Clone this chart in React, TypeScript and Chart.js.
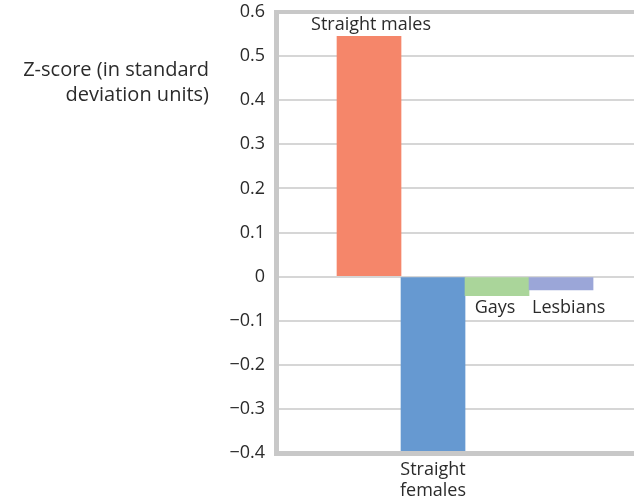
import React, { useEffect, useRef } from "react";
import { Chart, registerables } from "chart.js";

Chart.register(...registerables);

const categories = ["Straight males", "Straight females", "Gays", "Lesbians"];
const categoryLines = [["Straight males"], ["Straight", "females"], ["Gays"], ["Lesbians"]];
const zScores = [0.545, -0.4, -0.043, -0.03];
const barColors = ["#F5866A", "#6699D1", "#AAD59A", "#9BA6D8"];
const yTickValues = [-0.4, -0.3, -0.2, -0.1, 0, 0.1, 0.2, 0.3, 0.4, 0.5, 0.6];
const yTitleLines = ["Z-score (in standard", "deviation units)"];

const FONT = "'Open Sans', 'Noto Sans', sans-serif";
const TEXT = "#2b2b2b";
const FRAME = "#c8c8c8";

function fmt(v: number): string {
  if (Math.abs(v) < 1e-9) return "0";
  const s = Math.abs(v).toFixed(1);
  return v < 0 ? "\u2212" + s : s;
}

const annotate = {
  id: "annotate",
  afterDatasetsDraw(chart: any) {
    const { ctx, chartArea } = chart;
    const meta = chart.getDatasetMeta(0);
    ctx.save();
    // frame
    ctx.fillStyle = FRAME;
    ctx.fillRect(chartArea.left - 3, chartArea.top - 2, 5, chartArea.bottom - chartArea.top + 5);
    ctx.fillRect(chartArea.left - 3, chartArea.top - 2, chartArea.right - chartArea.left + 3, 4);
    ctx.fillRect(chartArea.left - 3, chartArea.bottom - 2, chartArea.right - chartArea.left + 3, 5);

    ctx.fillStyle = TEXT;
    // y title
    ctx.font = `20px ${FONT}`;
    ctx.textAlign = "right";
    ctx.textBaseline = "alphabetic";
    yTitleLines.forEach((t, i) => ctx.fillText(t, 209, 76 + i * 25));

    // bar labels
    ctx.font = `18px ${FONT}`;
    const smallBottoms: number[] = [];
    meta.data.forEach((bar: any, i: number) => {
      const v = zScores[i];
      if (v < 0 && bar.y < chartArea.bottom - 5) smallBottoms.push(bar.y);
    });
    const smallLine = smallBottoms.length ? Math.max(...smallBottoms) + 17 : 0;
    meta.data.forEach((bar: any, i: number) => {
      const v = zScores[i];
      const lines = categoryLines[i];
      const left = bar.x - bar.width / 2;
      if (v > 0) {
        ctx.textAlign = "center";
        lines.forEach((t, k) => ctx.fillText(t, bar.x + 2, bar.y - 6 - (lines.length - 1 - k) * 20));
      } else if (bar.y >= chartArea.bottom - 5) {
        ctx.textAlign = "center";
        lines.forEach((t, k) => ctx.fillText(t, bar.x, chartArea.bottom + 22 + k * 20.5));
      } else {
        const isLast = i === categories.length - 1;
        ctx.textAlign = isLast ? "left" : "center";
        const x = isLast ? left + 3 : bar.x - 2;
        lines.forEach((t, k) => ctx.fillText(t, x, smallLine + k * 20));
      }
    });
    ctx.restore();
  },
};

export default function App() {
  const ref = useRef<HTMLCanvasElement | null>(null);
  useEffect(() => {
    document.body.style.margin = "0";
    const canvas = ref.current!;
    const chart = new Chart(canvas, {
      type: "bar",
      data: {
        labels: categories,
        datasets: [
          {
            data: zScores.map((y, i) => ({ x: i, y })),
            backgroundColor: barColors,
            borderWidth: 0,
            barPercentage: 1,
            categoryPercentage: 1,
          },
        ],
      },
      options: {
        animation: false,
        responsive: false,
        devicePixelRatio: 1,
        layout: { padding: { top: 12, bottom: 48, left: 0, right: 0 } },
        plugins: { legend: { display: false }, tooltip: { enabled: false }, title: { display: false } },
        scales: {
          x: {
            type: "linear",
            display: true,
            offset: false,
            min: -1.4375,
            max: 4.14,
            grid: { display: false, offset: false },
            border: { display: false },
            ticks: { display: false },
            afterBuildTicks: (scale: any) => {
              scale.ticks = categories.map((_, i) => ({ value: i }));
            },
            afterFit: (scale: any) => {
              scale.height = 0;
              scale.paddingLeft = 0;
              scale.paddingRight = 0;
            },
          },
          y: {
            min: -0.4,
            max: 0.6,
            afterFit: (scale: any) => {
              scale.width = 277;
              scale.paddingTop = 0;
              scale.paddingBottom = 0;
            },
            afterBuildTicks: (scale: any) => {
              scale.ticks = yTickValues.map((v) => ({ value: v }));
            },
            border: { display: false },
            grid: {
              color: "#d6d6d6",
              lineWidth: 2,
              drawTicks: false,
            },
            ticks: {
              padding: 12,
              color: TEXT,
              font: { family: FONT, size: 18 },
              callback: (v: any) => fmt(Number(v)),
            },
          },
        },
      },
      plugins: [annotate],
    });
    return () => chart.destroy();
  }, []);
  return (
    <div style={{ width: 634, height: 501, overflow: "hidden", background: "#fff" }}>
      <canvas ref={ref} width={634} height={501} />
    </div>
  );
}
